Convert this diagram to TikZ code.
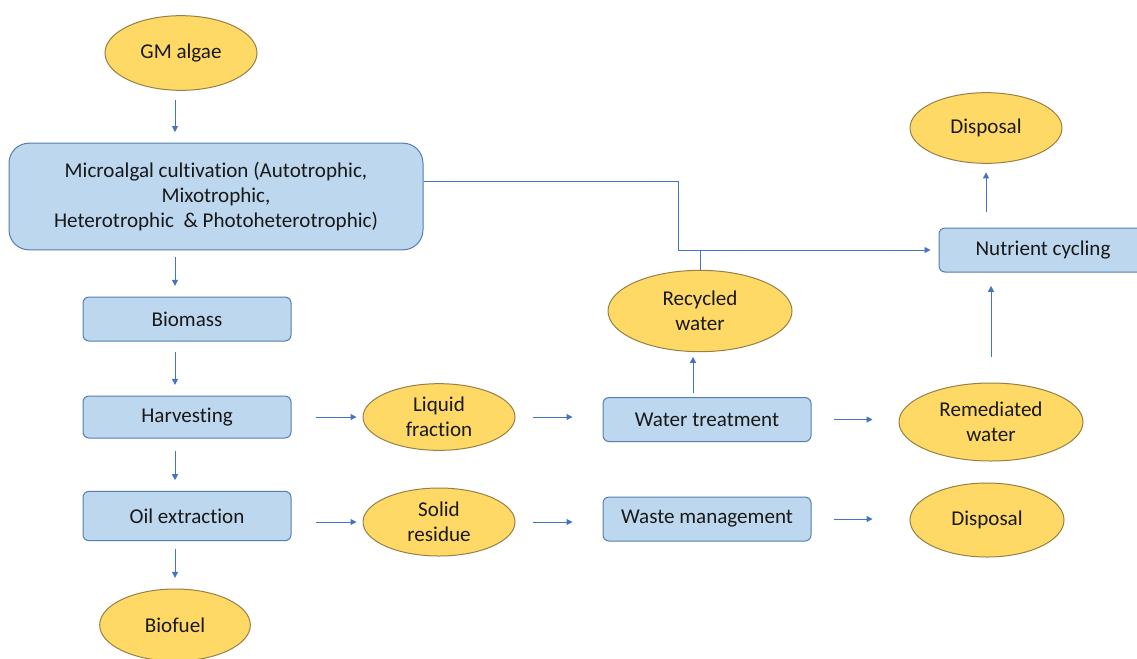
\documentclass[tikz,border=0pt]{standalone}
\usepackage{fontspec}
\setmainfont{Carlito}[Ligatures={NoCommon,NoContextual}]
\usetikzlibrary{arrows.meta,shapes.geometric,calc}
\definecolor{boxfill}{RGB}{189,215,238}
\definecolor{boxline}{RGB}{84,126,176}
\definecolor{ellfill}{RGB}{255,217,102}
\definecolor{ellline}{RGB}{150,128,70}
\definecolor{arrcol}{RGB}{68,114,196}
\definecolor{txt}{RGB}{25,25,25}
\tikzset{
  base/.style={font=\fontsize{15.8}{19}\selectfont, text=txt, align=center, inner sep=0pt, line width=0.75pt},
  boxnode/.style={base, rectangle, rounded corners=4.5pt, draw=boxline, fill=boxfill, minimum width=156pt, minimum height=33pt},
  ellnode/.style={base, ellipse, draw=ellline, fill=ellfill},
  arr/.style={draw=arrcol, line width=0.75pt, -{Triangle[length=4.5pt,width=4.5pt]}},
  plainline/.style={draw=arrcol, line width=0.75pt}
}
\begin{document}
\begin{tikzpicture}[x=0.75pt,y=-0.75pt]
\clip (0,0) rectangle (1137,658);
\fill[white] (0,0) rectangle (1137,658);
% left column
\node[ellnode, minimum width=114pt, minimum height=56pt] (gm) at (181,53) {GM algae};
\node[boxnode, rounded corners=15pt, minimum width=310.5pt, minimum height=80pt] (cult) at (216,196.5)
  {Microalgal cultivation (Autotrophic,\\Mixotrophic,\\Heterotrophic~ \& Photoheterotrophic)};
\node[boxnode] (biomass) at (187,319) {Biomass};
\node[boxnode, minimum height=31.5pt] (harv) at (187,417) {Harvesting};
\node[boxnode, minimum height=37pt] (oil) at (187,516) {Oil extraction};
\node[ellnode, minimum width=113pt, minimum height=54pt] (biofuel) at (175,625) {Biofuel};
% middle
\node[ellnode, minimum width=114pt, minimum height=50pt] (liquid) at (439,417) {Liquid\\fraction};
\node[ellnode, minimum width=114pt, minimum height=51pt] (solid) at (439,522) {Solid\\residue};
\node[boxnode] (water) at (707,419.5) {Water treatment};
\node[boxnode] (waste) at (707,519) {Waste management};
\node[ellnode, minimum width=138pt, minimum height=61pt] (recycled) at (700,311) {Recycled\\water};
% right
\node[ellnode, minimum width=138pt, minimum height=58.5pt] (remed) at (991,422) {Remediated\\water};
\node[ellnode, minimum width=115.5pt, minimum height=55.5pt] (disp2) at (987,520) {Disposal};
\node[boxnode] (nutr) at (1043,250) {Nutrient cycling};
\node[ellnode, minimum width=114pt, minimum height=53pt] (disp1) at (986,128) {Disposal};
% helper coordinates
\coordinate (colx) at (175,0);
\coordinate (j1) at (678,181);
\coordinate (j2) at (678,250);
\coordinate (rx) at (991,0);
\coordinate (tx) at (986,0);
\coordinate (wx) at (693,0);
% left column arrows
\draw[arr, shorten <=7pt, shorten >=8pt] (gm.south -| colx) -- (cult.north -| colx);
\draw[arr, shorten <=5pt, shorten >=8pt] (cult.south -| colx) -- (biomass.north -| colx);
\draw[arr, shorten <=8pt, shorten >=8pt] (biomass.south -| colx) -- (harv.north -| colx);
\draw[arr, shorten <=9.5pt, shorten >=8pt] (harv.south -| colx) -- (oil.north -| colx);
\draw[arr, shorten <=6pt, shorten >=8pt] (oil.south -| colx) -- (biofuel.north -| colx);
% horizontal arrows
\draw[arr, shorten <=18pt, shorten >=4.5pt] (harv.east) -- (liquid.west);
\draw[arr, shorten <=12.75pt, shorten >=22.5pt] (liquid.east) -- (water.west |- liquid.east);
\draw[arr, shorten <=18pt, shorten >=4.5pt] (oil.east |- solid.west) -- (solid.west);
\draw[arr, shorten <=12.75pt, shorten >=22.5pt] (solid.east) -- (waste.west |- solid.east);
\draw[arr, shorten <=16.5pt, shorten >=19.5pt] (water.east) -- (remed.west |- water.east);
\draw[arr, shorten <=16.5pt, shorten >=27.75pt] (waste.east) -- (disp2.west |- waste.east);
% vertical arrows right
\draw[arr, shorten <=3pt, shorten >=3.5pt] (water.north -| wx) -- (recycled.south -| wx);
\draw[arr, shorten <=19.5pt, shorten >=10pt] (remed.north -| rx) -- (nutr.south -| rx);
\draw[arr, shorten <=12pt, shorten >=6.4pt] (nutr.north -| tx) -- (disp1.south -| tx);
% recycling line
\draw[arr, shorten >=6pt] (cult.east |- j1) -- (j1) -- (j2) -- (nutr.west);
\draw[plainline] (recycled.north) -- (recycled.north |- j2);
\end{tikzpicture}
\end{document}
